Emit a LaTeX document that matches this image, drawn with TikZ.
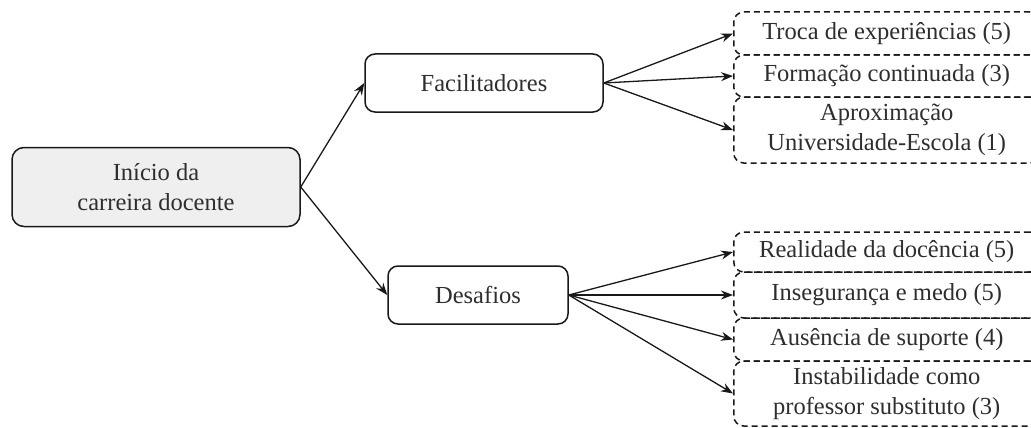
\documentclass[tikz,border=0pt]{standalone}
\usepackage{fontspec}
\setmainfont{Liberation Serif}
\usetikzlibrary{arrows.meta,positioning}
\definecolor{rootgray}{HTML}{EFEFEF}
\definecolor{txtgray}{HTML}{2E2E2E}

\begin{document}
\begin{tikzpicture}[x=1pt,y=-1pt,
    box/.style={draw=black!90, line width=1.5pt, rounded corners=10pt, align=center,
      text=txtgray, font=\fontsize{24.5}{30}\selectfont, inner sep=0pt},
    leafbox/.style={box, dashed, dash pattern=on 6pt off 4pt, minimum width=306pt, anchor=west},
    link/.style={-{Stealth[length=12pt,width=9pt]}, line width=1.3pt, black!90}]
  \useasboundingbox (0,0) rectangle (1031,428);
  \clip (0,0) rectangle (1031,428);
  % main boxes
  \node[box, fill=rootgray, rounded corners=12pt, minimum width=288pt, minimum height=79pt]
    (inicio) at (156,187) {Início da\\carreira docente};
  \node[box, minimum width=238pt, minimum height=58pt] (facil) at (484,83) {Facilitadores};
  \node[box, minimum width=180pt, minimum height=58pt] (desaf) at (478,295) {Desafios};
  % facilitadores
  \node[leafbox, minimum height=43pt] (troca) at (733,33.5) {Troca de experiências (5)};
  \node[leafbox, minimum height=42pt] (formacao) at (733,76) {Formação continuada (3)};
  \node[leafbox, minimum height=66pt] (aprox) at (733,130) {Aproximação\\Universidade-Escola (1)};
  % desafios
  \node[leafbox, minimum height=40pt] (realidade) at (733,252) {Realidade da docência (5)};
  \node[leafbox, minimum height=46pt] (inseg) at (733,295) {Insegurança e medo (5)};
  \node[leafbox, minimum height=43pt] (ausencia) at (733,339.5) {Ausência de suporte (4)};
  \node[leafbox, minimum height=65pt] (instab) at (733,393.5) {Instabilidade como\\professor substituto (3)};
  % arrows
  \draw[link] (inicio.east) -- (facil.west);
  \draw[link] (inicio.east) -- (desaf.west);
  \foreach \n in {troca,formacao,aprox}
    \draw[link] (facil.east) -- (\n.west);
  \foreach \n in {realidade,inseg,ausencia,instab}
    \draw[link] (desaf.east) -- (\n.west);
\end{tikzpicture}
\end{document}
